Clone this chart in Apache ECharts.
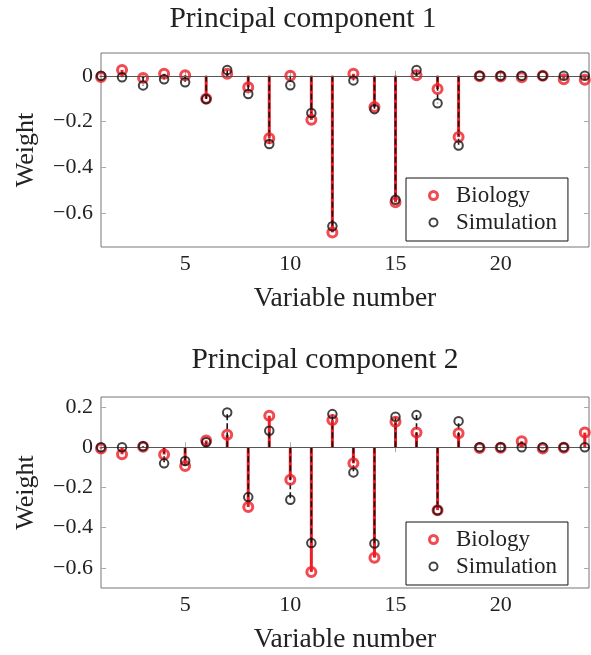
<!DOCTYPE html>
<html style="height: 100%">

<head>
    <meta charset="utf-8">
</head>

<body style="height: 100%; margin: 0; background: #fff">
    <div id="main" style="width: 591px; height: 655px"></div>
    <script type="text/javascript" src="https://cdn.jsdelivr.net/npm/echarts@6.0.0/dist/echarts.min.js"></script>
    <script type="text/javascript">

        // variable numbers on the x axis
        var variables = [1, 2, 3, 4, 5, 6, 7, 8, 9, 10, 11, 12, 13, 14, 15, 16, 17, 18, 19, 20, 21, 22, 23, 24];

        // principal component 1 weights
        var bio1 = [-0.005, 0.026, -0.01, 0.009, 0.003, -0.1, 0.009, -0.05, -0.274, 0, -0.193, -0.686,
            0.009, -0.137, -0.554, 0.003, -0.058, -0.268, -0.002, -0.003, -0.006, 0, -0.015, -0.017];
        var sim1 = [0, -0.006, -0.042, -0.015, -0.028, -0.102, 0.026, -0.08, -0.299, -0.041, -0.163, -0.659,
            -0.02, -0.146, -0.543, 0.026, -0.12, -0.305, 0, 0, 0, 0, 0, 0];

        // principal component 2 weights
        var bio2 = [-0.006, -0.035, 0.003, -0.036, -0.093, 0.034, 0.062, -0.297, 0.157, -0.161, -0.62, 0.135,
            -0.08, -0.549, 0.127, 0.073, -0.313, 0.07, -0.004, -0.003, 0.03, -0.006, -0.003, 0.073];
        var sim2 = [0, 0, 0.005, -0.08, -0.068, 0.025, 0.173, -0.248, 0.082, -0.261, -0.476, 0.165,
            -0.125, -0.479, 0.152, 0.16, -0.313, 0.13, 0, 0, 0, 0, 0, 0];

        var xTicks = [5, 10, 15, 20];
        var yTicks1 = [0, -0.2, -0.4, -0.6];
        var yTicks2 = [0.2, 0, -0.2, -0.4, -0.6];

        var titles = ['Principal component 1', 'Principal component 2'];

        var RED = '#ee1d25';
        var BLACK = '#141414';
        var FONT = 'Liberation Serif';

        var chartDom = document.getElementById('main');
        var myChart = echarts.init(chartDom);

        function fmt(v) {
            if (Math.abs(v) < 1e-9) return '0';
            return v.toFixed(1).replace('-', '\u2212');
        }

        function stem(i, name, vals, color, width, dash, z) {
            return {
                type: 'custom',
                name: name,
                xAxisIndex: 2 * i,
                yAxisIndex: 2 * i,
                z: z,
                silent: true,
                data: variables.map(function (x, k) { return [x, vals[k]]; }),
                renderItem: function (params, api) {
                    var p0 = api.coord([api.value(0), 0]);
                    var p1 = api.coord([api.value(0), api.value(1)]);
                    return {
                        type: 'line',
                        shape: { x1: p0[0], y1: p0[1], x2: p1[0], y2: p1[1] },
                        style: { stroke: color, lineWidth: width, lineDash: dash }
                    };
                }
            };
        }

        function dots(i, name, vals, color, size, bw, z) {
            return {
                type: 'scatter',
                name: name,
                xAxisIndex: 2 * i,
                yAxisIndex: 2 * i,
                z: z,
                symbol: 'circle',
                symbolSize: size,
                itemStyle: { color: 'rgba(0,0,0,0)', borderColor: color, borderWidth: bw },
                data: variables.map(function (x, k) { return [x, vals[k]]; })
            };
        }

        var grids = [
            { left: 101, top: 53, width: 488, height: 194 },
            { left: 101, top: 397, width: 488, height: 194 }
        ];
        var yRange = [[-0.75, 0.1], [-0.7, 0.25]];
        var yTicks = [yTicks1, yTicks2];

        var xAxes = [], yAxes = [], series = [], legends = [], titleList = [];
        var titleX = [303, 325];
        var titleY = [4, 345];

        grids.forEach(function (g, i) {
            g.show = true;
            g.borderColor = '#777';
            g.borderWidth = 1;
            g.backgroundColor = 'transparent';

            xAxes.push({
                type: 'value', gridIndex: i, min: 1, max: 24.2,
                axisLine: { show: false },
                axisTick: { inside: true, length: 5, customValues: xTicks, lineStyle: { color: '#aaa' } },
                axisLabel: { customValues: xTicks, margin: 6, fontFamily: FONT, fontSize: 22, color: '#222' },
                splitLine: { show: false },
                name: 'Variable number', nameLocation: 'middle', nameGap: 38,
                nameTextStyle: { fontFamily: FONT, fontSize: 27.5, color: '#222' }
            });
            xAxes.push({
                type: 'value', gridIndex: i, min: 1, max: 24.2, position: 'top',
                axisLine: { show: false },
                axisTick: { inside: true, length: 5, customValues: xTicks, lineStyle: { color: '#aaa' } },
                axisLabel: { show: false },
                splitLine: { show: false }
            });
            yAxes.push({
                type: 'value', gridIndex: i, min: yRange[i][0], max: yRange[i][1],
                axisLine: { show: false },
                axisTick: { inside: true, length: 5, customValues: yTicks[i], lineStyle: { color: '#aaa' } },
                axisLabel: { customValues: yTicks[i], margin: 8, formatter: fmt, fontFamily: FONT, fontSize: 22, color: '#222' },
                splitLine: { show: false },
                name: 'Weight', nameLocation: 'middle', nameRotate: 90, nameGap: 62,
                nameTextStyle: { fontFamily: FONT, fontSize: 26, color: '#222' }
            });
            yAxes.push({
                type: 'value', gridIndex: i, min: yRange[i][0], max: yRange[i][1], position: 'right',
                axisLine: { show: false },
                axisTick: { inside: true, length: 5, customValues: yTicks[i], lineStyle: { color: '#aaa' } },
                axisLabel: { show: false },
                splitLine: { show: false }
            });

            var bio = i === 0 ? bio1 : bio2;
            var sim = i === 0 ? sim1 : sim2;

            var redStem = stem(i, 'bioStem' + i, bio, RED, 3, null, 2);
            redStem.markLine = {
                silent: true, symbol: 'none', animation: false,
                label: { show: false },
                lineStyle: { color: '#555', width: 1, type: 'solid' },
                data: [{ yAxis: 0 }]
            };
            series.push(redStem);
            series.push(stem(i, 'simStem' + i, sim, BLACK, 1.6, [6, 3], 3));
            series.push(dots(i, 'Biology', bio, RED, 9, 3, 4));
            series.push(dots(i, 'Simulation', sim, BLACK, 8.5, 2, 5));

            legends.push({
                orient: 'vertical',
                left: 406,
                top: g.top + 125,
                padding: [6, 11, 7, 22],
                itemWidth: 35,
                itemHeight: 8,
                itemGap: 4,
                borderColor: '#111',
                borderWidth: 1,
                backgroundColor: '#fff',
                selectedMode: false,
                textStyle: { fontFamily: FONT, fontSize: 23, color: '#222' },
                data: [
                    { name: 'Biology', icon: 'circle', itemStyle: { color: 'rgba(0,0,0,0)', borderColor: RED, borderWidth: 3 } },
                    { name: 'Simulation', icon: 'circle', itemStyle: { color: 'rgba(0,0,0,0)', borderColor: BLACK, borderWidth: 2 } }
                ]
            });

            titleList.push({
                text: titles[i],
                left: titleX[i],
                top: titleY[i],
                textAlign: 'center',
                padding: 0,
                textStyle: { fontFamily: FONT, fontSize: 29.5, fontWeight: 'normal', color: '#222' }
            });
        });

        myChart.setOption({
            animation: false,
            title: titleList,
            grid: grids,
            xAxis: xAxes,
            yAxis: yAxes,
            legend: legends,
            series: series
        });

    </script>
</body>

</html>
